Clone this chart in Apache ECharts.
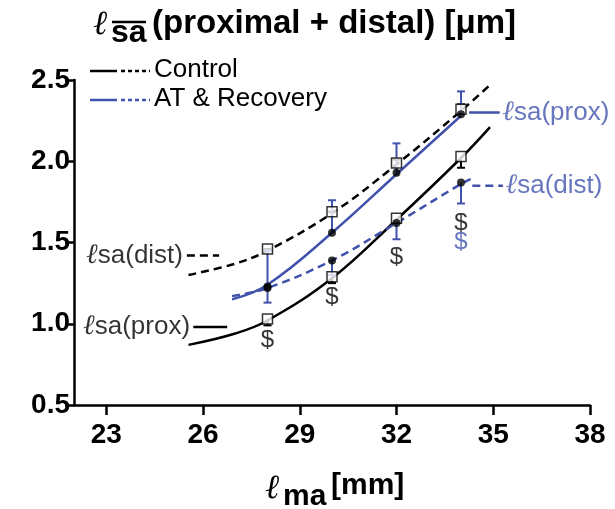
<!DOCTYPE html>
<html>
<head>
<meta charset="utf-8">
<script src="https://cdn.jsdelivr.net/npm/echarts@6/dist/echarts.min.js"></script>
<style>
  html, body { margin: 0; padding: 0; background: #fff; }
  #main { width: 615px; height: 509px; }
</style>
</head>
<body>
<div id="main"></div>
<script>
// measured points
var xPts = [28, 30, 32, 34];
var ctrlProx = [1.03, 1.29, 1.65, 2.03];
var ctrlDist = [1.46, 1.69, 1.99, 2.32];
var atProx = [1.23, 1.56, 1.93, 2.29];
var atDist = [1.22, 1.39, 1.62, 1.87];
// one-sided error bar ends
var ctrlProxErr = [0.99, 1.25, 1.62, 1.96];
var ctrlDistErr = [1.46, 1.69, 2.01, 2.35];
var atProxErr = [1.45, 1.76, 2.11, 2.43];
var atDistErr = [1.13, 1.30, 1.52, 1.74];
// fitted curves
var ctrlProxFitX = [25.55, 27, 28, 30, 32, 34, 34.9];
var ctrlProxFitY = [0.87, 0.94, 1.02, 1.28, 1.64, 2.02, 2.21];
var ctrlDistFitX = [25.55, 27, 28, 30, 32, 34, 34.9];
var ctrlDistFitY = [1.30, 1.37, 1.45, 1.68, 1.98, 2.31, 2.47];
var atProxFitX = [26.9, 28, 30, 32, 34];
var atProxFitY = [1.15, 1.24, 1.56, 1.92, 2.28];
var atDistFitX = [26.9, 28, 30, 32, 34, 34.3];
var atDistFitY = [1.17, 1.22, 1.39, 1.62, 1.86, 1.89];
// significance marks
var dollarBlack = [[28, 0.90], [30, 1.16], [32, 1.41], [34, 1.62]];
var dollarBlue = [[34, 1.50]];
// axis ticks
var xTicks = [23, 26, 29, 32, 35, 38];

var BLUE = '#4052ac';
var chart = echarts.init(document.getElementById('main'));

function pairs(xs, ys) {
  return xs.map(function (x, i) { return [x, ys[i]]; });
}
function errData(ys, ends) {
  return xPts.map(function (x, i) { return [x, ys[i], ends[i]]; });
}
function errSeries(data, color) {
  return {
    type: 'custom',
    z: 3,
    data: data,
    renderItem: function (params, api) {
      var p0 = api.coord([api.value(0), api.value(1)]);
      var p1 = api.coord([api.value(0), api.value(2)]);
      return {
        type: 'group',
        children: [
          { type: 'line', shape: { x1: p0[0], y1: p0[1], x2: p1[0], y2: p1[1] }, style: { stroke: color, lineWidth: 2 } },
          { type: 'line', shape: { x1: p1[0] - 4, y1: p1[1], x2: p1[0] + 4, y2: p1[1] }, style: { stroke: color, lineWidth: 2 } }
        ]
      };
    }
  };
}
function fit(xs, ys, color, type) {
  return {
    type: 'line', data: pairs(xs, ys), smooth: 0.4, symbol: 'none', z: 2,
    lineStyle: { color: color, width: 2.5, type: type }
  };
}
function leader(x0, x1, y, color, type) {
  return {
    type: 'line', data: [[x0, y], [x1, y]], symbol: 'none', z: 2,
    lineStyle: { color: color, width: 2.5, type: type }
  };
}
function tag(x, y, text, color, pos) {
  return {
    type: 'scatter', data: [[x, y]], symbolSize: 0, z: 5,
    label: {
      show: true, position: pos, distance: 0,
      formatter: '{l|ℓ}{t|' + text + '}',
      rich: {
        l: { fontFamily: 'DejaVu Serif', fontStyle: 'italic', fontSize: 28, color: color },
        t: { fontFamily: 'Liberation Sans', fontSize: 26, color: color }
      }
    }
  };
}
function dollars(data, color) {
  return {
    type: 'scatter', data: data, symbolSize: 0, z: 5,
    label: { show: true, position: 'inside', formatter: '$', fontFamily: 'Liberation Sans', fontSize: 24, color: color }
  };
}

chart.setOption({
  animation: false,
  grid: { left: 74, right: 25, top: 80, bottom: 104 },
  xAxis: {
    type: 'value', min: 22, max: 38,
    axisLine: { lineStyle: { color: '#000', width: 2.5 } },
    axisTick: { customValues: xTicks, length: 10, lineStyle: { color: '#000', width: 2.5 } },
    axisLabel: { customValues: xTicks, margin: 16, fontFamily: 'Liberation Sans', fontWeight: 'bold', fontSize: 28, color: '#000' },
    splitLine: { show: false }
  },
  yAxis: {
    type: 'value', min: 0.5, max: 2.5, interval: 0.5,
    axisLine: { show: true, lineStyle: { color: '#000', width: 2.5 } },
    axisTick: { show: true, length: 9, lineStyle: { color: '#000', width: 2.5 } },
    axisLabel: {
      margin: 4, fontFamily: 'Liberation Sans', fontWeight: 'bold', fontSize: 28, color: '#000',
      formatter: function (v) { return v.toFixed(1); }
    },
    splitLine: { show: false }
  },
  graphic: [
    { type: 'text', left: 93, top: 8, style: { text: 'ℓ', font: 'italic 34px "DejaVu Serif"', fill: '#000' } },
    { type: 'text', left: 111, top: 17, style: { text: 'sa', font: 'bold 32px "Liberation Sans"', fill: '#000' } },
    { type: 'line', shape: { x1: 112, y1: 22, x2: 146, y2: 22 }, style: { stroke: '#000', lineWidth: 2.5 } },
    { type: 'text', left: 152, top: 7, style: { text: '(proximal + distal) [μm]', font: 'bold 33px "Liberation Sans"', fill: '#000' } },
    // legend
    { type: 'line', shape: { x1: 90, y1: 71, x2: 117, y2: 71 }, style: { stroke: '#000', lineWidth: 2.5 } },
    { type: 'line', shape: { x1: 121, y1: 71, x2: 150, y2: 71 }, style: { stroke: '#000', lineWidth: 2.5, lineDash: [4, 3] } },
    { type: 'text', left: 154, top: 57, style: { text: 'Control', font: '26px "Liberation Sans"', fill: '#000' } },
    { type: 'line', shape: { x1: 90, y1: 100, x2: 117, y2: 100 }, style: { stroke: BLUE, lineWidth: 2.5 } },
    { type: 'line', shape: { x1: 121, y1: 100, x2: 150, y2: 100 }, style: { stroke: BLUE, lineWidth: 2.5, lineDash: [4, 3] } },
    { type: 'text', left: 154, top: 86, style: { text: 'AT & Recovery', font: '26px "Liberation Sans"', fill: '#000' } },
    // x axis name
    { type: 'text', left: 265, top: 472, style: { text: 'ℓ', font: 'italic 34px "DejaVu Serif"', fill: '#000' } },
    { type: 'text', left: 283, top: 482, style: { text: 'ma', font: 'bold 30px "Liberation Sans"', fill: '#000' } },
    { type: 'text', left: 331, top: 471, style: { text: '[mm]', font: 'bold 30px "Liberation Sans"', fill: '#000' } }
  ],
  series: [
    fit(ctrlProxFitX, ctrlProxFitY, '#000', 'solid'),
    fit(ctrlDistFitX, ctrlDistFitY, '#000', [8, 5]),
    fit(atProxFitX, atProxFitY, BLUE, 'solid'),
    fit(atDistFitX, atDistFitY, BLUE, [8, 5]),
    leader(25.5, 26.5, 1.42, '#000', [8, 5]),
    leader(25.7, 26.75, 0.98, '#000', 'solid'),
    leader(34.25, 35.2, 2.30, BLUE, 'solid'),
    leader(34.35, 35.3, 1.85, BLUE, [8, 5]),
    tag(25.38, 1.42, 'sa(dist)', '#000', 'left'),
    tag(25.6, 0.98, 'sa(prox)', '#000', 'left'),
    tag(35.28, 2.30, 'sa(prox)', BLUE, 'right'),
    tag(35.38, 1.85, 'sa(dist)', BLUE, 'right'),
    errSeries(errData(ctrlProx, ctrlProxErr), '#000'),
    errSeries(errData(ctrlDist, ctrlDistErr), '#000'),
    errSeries(errData(atProx, atProxErr), BLUE),
    errSeries(errData(atDist, atDistErr), BLUE),
    {
      type: 'scatter', data: pairs(xPts, ctrlProx), symbol: 'rect', symbolSize: 10, z: 4,
      itemStyle: { color: '#fff', borderColor: '#000', borderWidth: 1.5 }
    },
    {
      type: 'scatter', data: pairs(xPts, ctrlDist), symbol: 'rect', symbolSize: 10, z: 4,
      itemStyle: { color: '#fff', borderColor: '#000', borderWidth: 1.5 }
    },
    { type: 'scatter', data: pairs(xPts, atProx), symbol: 'circle', symbolSize: 8, z: 4, itemStyle: { color: '#000' } },
    { type: 'scatter', data: pairs(xPts, atDist), symbol: 'circle', symbolSize: 8, z: 4, itemStyle: { color: '#000' } },
    dollars(dollarBlack, '#000'),
    dollars(dollarBlue, BLUE)
  ]
});
</script>
</body>
</html>
